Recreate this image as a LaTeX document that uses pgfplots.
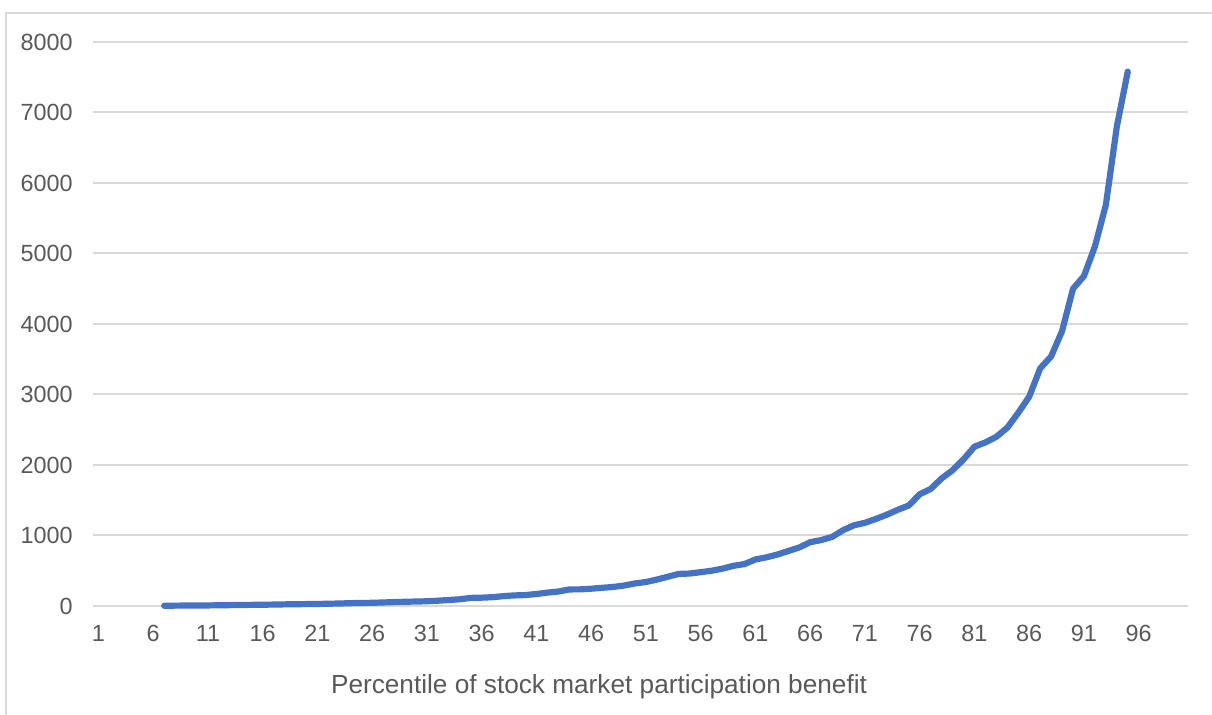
\documentclass[border=0pt]{standalone}
\usepackage{fontspec}
\setmainfont{Liberation Sans}
\usepackage{pgfplots}
\pgfplotsset{compat=1.18}
\usepackage{pgfplotstable}
\definecolor{txtgray}{HTML}{595959}
\definecolor{gridgray}{HTML}{D9D9D9}
\definecolor{lineblue}{HTML}{4472C4}

% benefit by percentile
\pgfplotstableread{
p v
7 3
8 5
9 6
10 7
11 8
12 10
13 12
14 14
15 16
16 18
17 20
18 23
19 25
20 27
21 29
22 32
23 35
24 40
25 43
26 45
27 50
28 55
29 60
30 63
31 67
32 75
33 85
34 95
35 115
36 118
37 125
38 140
39 150
40 155
41 170
42 190
43 205
44 235
45 236
46 245
47 258
48 270
49 290
50 320
51 340
52 375
53 415
54 455
55 460
56 480
57 500
58 530
59 570
60 595
61 660
62 690
63 730
64 780
65 830
66 905
67 935
68 980
69 1075
70 1145
71 1180
72 1235
73 1295
74 1365
75 1425
76 1585
77 1660
78 1810
79 1925
80 2080
81 2260
82 2320
83 2400
84 2530
85 2740
86 2970
87 3370
88 3540
89 3900
90 4500
91 4680
92 5100
93 5690
94 6800
95 7580
}\benefit

\begin{document}
\begin{tikzpicture}
\path[use as bounding box] (0pt,0pt) rectangle (606pt,357.5pt);
\draw[gridgray, line width=1pt] (2.75pt,0pt) -- (2.75pt,351pt) -- (606pt,351pt);
\begin{axis}[
  at={(46.5pt,54.5pt)}, anchor=south west,
  scale only axis, width=547.5pt, height=282pt,
  xmin=0.5, xmax=100.5, ymin=0, ymax=8000,
  xtick={1,6,...,96}, ytick={0,1000,...,8000},
  axis line style={draw=none},
  major tick length=0pt,
  ymajorgrids, grid style={gridgray, line width=1pt},
  clip=false,
  tick label style={font=\fontsize{11.7}{13}\selectfont, text=txtgray, inner sep=0pt},
  yticklabel style={anchor=east, xshift=-10pt},
  xticklabel style={anchor=north, yshift=-9.5pt},
  /pgf/number format/.cd, assume math mode=true, set thousands separator={},
]
\addplot[lineblue, line width=3.1pt, line join=round, line cap=round, no markers] table[x=p, y=v] {\benefit};
\end{axis}
\node[anchor=base, text=txtgray, font=\fontsize{13.1}{15}\selectfont, inner sep=0pt] at (299.5pt,10.85pt) {Percentile of stock market participation benefit};
\end{tikzpicture}
\end{document}
